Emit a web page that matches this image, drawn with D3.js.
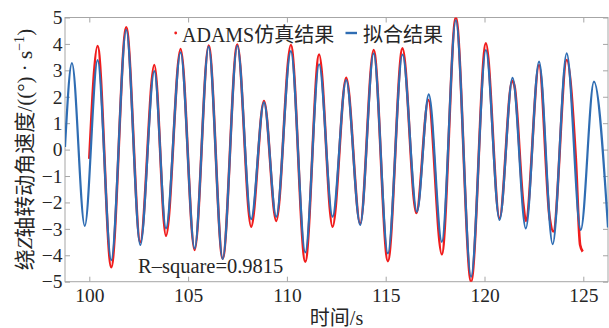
<!DOCTYPE html>
<html><head><meta charset="utf-8">
<script src="https://cdn.jsdelivr.net/npm/d3@7"></script>
<style>
html,body{margin:0;padding:0;background:#fff;}
svg{display:block;}
text{font-family:"Liberation Serif","Noto Sans CJK SC",serif;fill:#262626;}
</style></head>
<body>
<svg id="chart" width="609" height="328"></svg>
<script>
// Blue fitted curve: time (s) and value at extrema
const fitTime = [98.77, 99.12, 99.77, 100.42, 101.11, 101.87, 102.58, 103.29, 103.88, 104.62, 105.33, 106.04, 106.75, 107.49, 108.19, 108.84, 109.46, 110.20, 110.93, 111.63, 112.31, 113.00, 113.71, 114.39, 115.11, 115.85, 116.58, 117.18, 117.84, 118.55, 119.32, 120.07, 120.76, 121.42, 122.09, 122.76, 123.45, 124.16, 124.87, 125.54, 126.25];
const fitValue = [0.10, 3.27, -2.89, 3.39, -4.18, 4.53, -3.61, 2.97, -2.98, 3.68, -3.74, 3.90, -4.14, 3.93, -2.63, 1.79, -2.54, 3.73, -3.89, 3.23, -2.54, 2.63, -2.85, 3.64, -3.93, 3.60, -2.35, 2.09, -3.49, 4.90, -4.81, 3.77, -2.66, 2.72, -2.98, 3.33, -3.58, 3.64, -3.04, 2.57, -2.95];
// Red ADAMS simulation result
const simTime = [100.00, 100.42, 101.11, 101.87, 102.58, 103.29, 103.88, 104.62, 105.33, 106.04, 106.75, 107.49, 108.19, 108.84, 109.46, 110.20, 110.93, 111.63, 112.31, 113.00, 113.71, 114.39, 115.11, 115.85, 116.55, 117.16, 117.84, 118.55, 119.32, 120.07, 120.76, 121.40, 121.52, 121.97, 122.09, 122.76, 123.30, 123.48, 124.16, 124.62, 124.84, 124.97];
const simValue = [-0.35, 3.92, -4.45, 4.63, -3.50, 3.20, -3.26, 3.81, -3.80, 3.94, -4.12, 3.98, -2.92, 1.84, -2.70, 3.96, -4.24, 3.60, -2.92, 2.72, -2.80, 3.77, -4.22, 3.83, -2.40, 1.88, -3.96, 5.00, -5.00, 4.02, -2.60, 2.60, 2.40, -2.10, -2.70, 3.20, -2.60, -3.10, 3.39, -0.33, -3.61, -3.86];
const xTicks = [100, 105, 110, 115, 120, 125];
const yTicks = [-5, -4, -3, -2, -1, 0, 1, 2, 3, 4, 5];
const xDomain = [98.77, 126.25];
const yDomain = [-5, 5];

const svg = d3.select("#chart");
const L = 65, R = 608, T = 17.5, B = 281.7;
const x = d3.scaleLinear().domain(xDomain).range([L, R]);
const y = d3.scaleLinear().domain(yDomain).range([B, T]);
const axisColor = "#a6a6a6";

svg.append("defs").append("clipPath").attr("id","clip")
  .append("rect").attr("x",L).attr("y",T).attr("width",R-L).attr("height",B-T);

// box
svg.append("rect").attr("x",L).attr("y",T).attr("width",R-L).attr("height",B-T)
  .attr("fill","none").attr("stroke",axisColor).attr("stroke-width",1);

function styleAxis(g, showText){
  g.select(".domain").remove();
  g.selectAll(".tick line").attr("stroke",axisColor);
  g.selectAll(".tick text").attr("fill","#262626")
    .style("font-family","'Liberation Serif',serif").style("font-size","19.5px");
  if(!showText) g.selectAll(".tick text").remove();
}
svg.append("g").attr("transform",`translate(0,${B})`)
  .call(d3.axisBottom(x).tickValues(xTicks).tickSize(-5).tickPadding(6.5).tickFormat(d3.format("d")))
  .call(g=>styleAxis(g,true));
svg.append("g").attr("transform",`translate(0,${T})`)
  .call(d3.axisTop(x).tickValues(xTicks).tickSize(-5))
  .call(g=>styleAxis(g,false));
svg.append("g").attr("transform",`translate(${L},0)`)
  .call(d3.axisLeft(y).tickValues(yTicks).tickSize(-5).tickPadding(2.5).tickFormat(d=>d<0?"\u2212"+Math.abs(d):d))
  .call(g=>styleAxis(g,true));
svg.append("g").attr("transform",`translate(${R},0)`)
  .call(d3.axisRight(y).tickValues(yTicks).tickSize(-5))
  .call(g=>styleAxis(g,false));

const line = d3.line().x(d=>x(d[0])).y(d=>y(d[1])).curve(d3.curveMonotoneX);
const sim = simTime.map((t,i)=>[t, simValue[i]]);
const fit = fitTime.map((t,i)=>[t, fitValue[i]]);
const plot = svg.append("g").attr("clip-path","url(#clip)");
plot.append("path").datum(sim).attr("d",line).attr("fill","none")
  .attr("stroke","#f01c1c").attr("stroke-width",2.6).attr("stroke-linejoin","round");
plot.append("path").datum(fit).attr("d",line).attr("fill","none")
  .attr("stroke","#2f6db3").attr("stroke-width",2.2).attr("stroke-linejoin","round");

// legend
svg.append("circle").attr("cx",175.7).attr("cy",33).attr("r",1.4).attr("fill","#f01c1c");
svg.append("text").attr("x",182).attr("y",41.7).style("font-size","20px").text("ADAMS仿真结果");
svg.append("line").attr("x1",345.5).attr("x2",357).attr("y1",33).attr("y2",33)
  .attr("stroke","#2f6db3").attr("stroke-width",2.4);
svg.append("text").attr("x",363).attr("y",41.7).style("font-size","20px").text("拟合结果");

// R-square
svg.append("text").attr("x",138).attr("y",273).style("font-size","20.5px").text("R\u2013square=0.9815");

// axis titles
svg.append("text").attr("x",(L+R)/2).attr("y",325).attr("text-anchor","middle")
  .style("font-size","20px").text("时间/s");
const yl = svg.append("text").attr("transform",`translate(32,${(T+B)/2}) rotate(-90)`)
  .attr("text-anchor","middle").style("font-size","21px");
yl.append("tspan").text("绕");
yl.append("tspan").style("font-style","italic").text("Z");
yl.append("tspan").text("轴转动角速度/((°) · s");
yl.append("tspan").attr("dy",-8).style("font-size","14px").text("\u22121");
yl.append("tspan").attr("dy",8).text(")");
</script>
</body></html>
